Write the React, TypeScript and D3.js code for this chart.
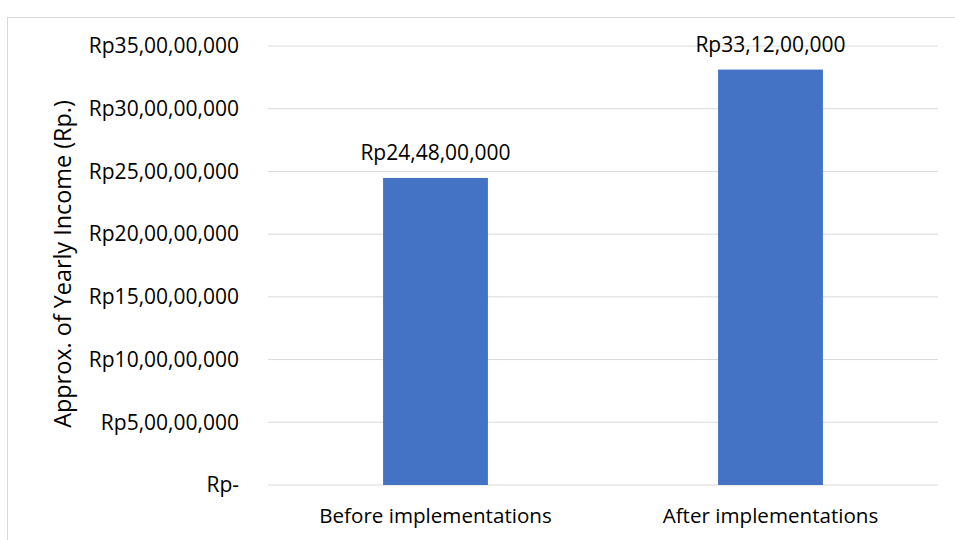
import * as d3 from "d3";

const categories = ["Before implementations", "After implementations"];
const incomeValues = [244800000, 331200000];
const tickValues = [0, 50000000, 100000000, 150000000, 200000000, 250000000, 300000000, 350000000];
const tickLabels = [
  "Rp-",
  "Rp5,00,00,000",
  "Rp10,00,00,000",
  "Rp15,00,00,000",
  "Rp20,00,00,000",
  "Rp25,00,00,000",
  "Rp30,00,00,000",
  "Rp35,00,00,000",
];
const valueLabels = ["Rp24,48,00,000", "Rp33,12,00,000"];
const yTitle = "Approx. of Yearly Income (Rp.)";

const W = 955;
const H = 540;
const margin = { top: 46, right: 17, bottom: 55, left: 268 };
const font = "'Open Sans', sans-serif";
const fs = 21;

export default function App() {
  const x = d3
    .scaleBand<string>()
    .domain(categories)
    .range([margin.left, W - margin.right])
    .paddingInner(0.687)
    .paddingOuter(0.3435);
  const y = d3
    .scaleLinear()
    .domain([0, 350000000])
    .range([H - margin.bottom, margin.top]);

  return (
    <svg
      width={W}
      height={H}
      style={{ position: "absolute", left: 0, top: 0, background: "#fff" }}
      fontFamily={font}
    >
      {/* chart area border */}
      <rect x={7.5} y={17.5} width={W} height={H} fill="none" stroke="#d9d9d9" />

      {/* gridlines + tick labels */}
      {tickValues.map((t, i) => (
        <g key={t}>
          <line
            x1={margin.left}
            x2={W - margin.right}
            y1={y(t)}
            y2={y(t)}
            stroke="#d9d9d9"
            strokeWidth={1}
          />
          <text
            x={239}
            y={y(t)}
            dy="0.35em"
            textAnchor="end"
            fontSize={fs}
            fill="#000"
          >
            {tickLabels[i]}
          </text>
        </g>
      ))}

      {/* bars */}
      {categories.map((c, i) => (
        <g key={c}>
          <rect
            x={x(c)}
            y={y(incomeValues[i])}
            width={x.bandwidth()}
            height={y(0) - y(incomeValues[i])}
            fill="#4472c4"
          />
          <text
            x={x(c)! + x.bandwidth() / 2}
            y={y(incomeValues[i]) - 18}
            textAnchor="middle"
            fontSize={fs}
            fill="#000"
          >
            {valueLabels[i]}
          </text>
          <text
            x={x(c)! + x.bandwidth() / 2}
            y={523}
            textAnchor="middle"
            fontSize={20.6}
            fill="#000"
          >
            {c}
          </text>
        </g>
      ))}

      {/* y axis title */}
      <text
        transform={`translate(71,264) rotate(-90)`}
        textAnchor="middle"
        fontSize={23.4}
        fill="#000"
      >
        {yTitle}
      </text>
    </svg>
  );
}
